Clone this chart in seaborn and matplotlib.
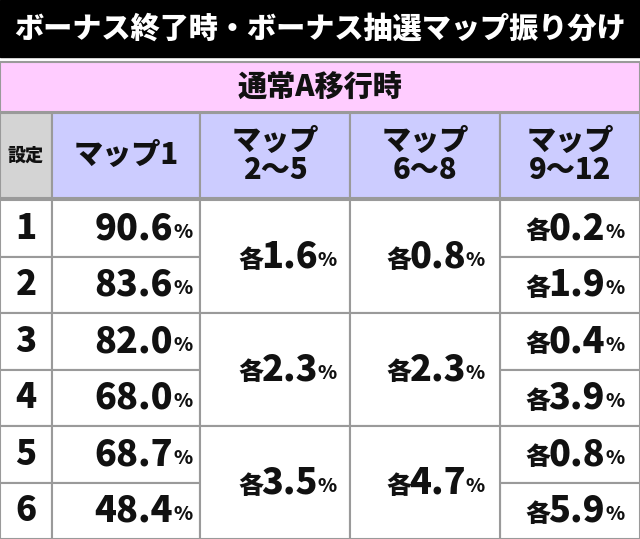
import matplotlib
matplotlib.use("Agg")
import matplotlib.pyplot as plt
import seaborn as sns
from matplotlib.patches import Rectangle

sns.set_theme(style="white")
FONT = "Noto Sans CJK JP"
W = "heavy"

title = "ボーナス終了時・ボーナス抽選マップ振り分け"
subtitle = "通常A移行時"
headers = ["設定", "マップ1", "マップ\n2〜5", "マップ\n6〜8", "マップ\n9〜12"]
settings = ["1", "2", "3", "4", "5", "6"]
map1 = ["90.6", "83.6", "82.0", "68.0", "68.7", "48.4"]
map2_5 = ["1.6", "2.3", "3.5"]      # per pair of settings
map6_8 = ["0.8", "2.3", "4.7"]      # per pair of settings
map9_12 = ["0.2", "1.9", "0.4", "3.9", "0.8", "5.9"]

fig = plt.figure(figsize=(6.4, 5.39), dpi=100)
ax = fig.add_axes([0, 0, 1, 1])
ax.set_xlim(0, 640); ax.set_ylim(539, 0); ax.axis("off")

cols = [0, 52, 200, 350, 500, 640]
line = "#9a9a9a"
ax.add_patch(Rectangle((0, 0), 640, 57, color="black"))
ax.text(320, 29, title, color="white", fontsize=21, fontweight=W, family=FONT, ha="center", va="center")
ax.add_patch(Rectangle((0, 62), 640, 50, facecolor="#ffccff", edgecolor=line, lw=1.5))
ax.text(320, 88, subtitle, fontsize=21, fontweight=W, family=FONT, ha="center", va="center", color="#111")
hy0, hy1 = 113, 198
for i, h in enumerate(headers):
    fc = "#d4d4d4" if i == 0 else "#ccccff"
    ax.add_patch(Rectangle((cols[i], hy0), cols[i+1]-cols[i], hy1-hy0, facecolor=fc, edgecolor=line, lw=1.5))
    fs = 13 if i == 0 else 21
    ax.text((cols[i]+cols[i+1])/2, (hy0+hy1)/2, h, fontsize=fs, fontweight=W, family=FONT,
            ha="center", va="center", linespacing=1.0, color="#111")

y0 = 200
rh = (539 - y0) / 6
def pct(xr, yc, num, prefix=""):
    ax.text(xr, yc + 4, "%", fontsize=14, fontweight=W, family=FONT, ha="left", va="center", color="#111")
    ax.text(xr, yc, num, fontsize=26, fontweight=W, family=FONT, ha="right", va="center", color="#111")
    if prefix:
        ax.text(xr - 55, yc + 3, prefix, fontsize=18, fontweight=W, family=FONT, ha="right", va="center", color="#111")

for r in range(6):
    top = y0 + r*rh; yc = top + rh/2
    for c in [0, 1, 4]:
        ax.add_patch(Rectangle((cols[c], top), cols[c+1]-cols[c], rh, facecolor="white", edgecolor=line, lw=1.5))
    ax.text(26, yc, settings[r], fontsize=25, fontweight=W, family=FONT, ha="center", va="center", color="#111")
    pct(173, yc, map1[r])
    pct(605, yc, map9_12[r], "各")
for p in range(3):
    top = y0 + 2*p*rh; yc = top + rh
    for c in [2, 3]:
        ax.add_patch(Rectangle((cols[c], top), cols[c+1]-cols[c], 2*rh, facecolor="white", edgecolor=line, lw=1.5))
    pct(318, yc, map2_5[p], "各")
    pct(466, yc, map6_8[p], "各")

fig.savefig("out.png", dpi=100)
